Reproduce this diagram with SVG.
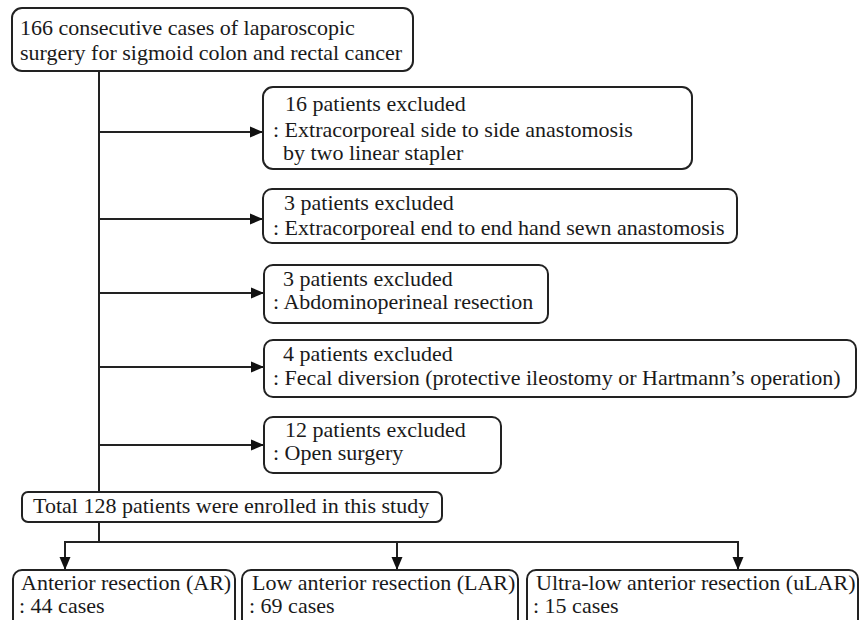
<svg xmlns="http://www.w3.org/2000/svg" width="860" height="620" viewBox="0 0 860 620">
<style>
  .box { fill: #ffffff; stroke: #222222; stroke-width: 2; }
  .t { font-family: "Liberation Serif", "Times New Roman", serif; font-size: 22px; fill: #1a1a1a; }
  .ln { fill: none; stroke: #222222; stroke-width: 2; }
</style>
<defs>
  <marker id="ah" markerUnits="userSpaceOnUse" markerWidth="14" markerHeight="14" viewBox="0 0 14 14" refX="13" refY="7" orient="auto">
    <path d="M0,1.5 L13,7 L0,12.5 Z" fill="#111111"/>
  </marker>
</defs>
<rect width="860" height="620" fill="#ffffff"/>

<g id="connectors">
  <line class="ln" x1="99" y1="71" x2="99" y2="492"/>
  <line class="ln" x1="99" y1="132" x2="263" y2="132" marker-end="url(#ah)"/>
  <line class="ln" x1="99" y1="219" x2="263" y2="219" marker-end="url(#ah)"/>
  <line class="ln" x1="99" y1="293" x2="264" y2="293" marker-end="url(#ah)"/>
  <line class="ln" x1="99" y1="367" x2="264" y2="367" marker-end="url(#ah)"/>
  <line class="ln" x1="99" y1="445" x2="264" y2="445" marker-end="url(#ah)"/>
  <line class="ln" x1="99" y1="522" x2="99" y2="542"/>
  <line class="ln" x1="65" y1="542" x2="738" y2="542"/>
  <line class="ln" x1="65" y1="541" x2="65" y2="570" marker-end="url(#ah)"/>
  <line class="ln" x1="397" y1="541" x2="397" y2="570" marker-end="url(#ah)"/>
  <line class="ln" x1="738" y1="541" x2="738" y2="570" marker-end="url(#ah)"/>
</g>

<g id="start">
  <rect class="box" x="12" y="8" width="401" height="63" rx="10"/>
  <text class="t" x="20" y="35">166 consecutive cases of laparoscopic</text>
  <text class="t" x="20" y="60">surgery for sigmoid colon and rectal cancer</text>
</g>

<g id="excl1">
  <rect class="box" x="263" y="87" width="429" height="82" rx="10"/>
  <text class="t" x="285" y="111">16 patients excluded</text>
  <text class="t" x="273" y="137">: Extracorporeal side to side anastomosis</text>
  <text class="t" x="283" y="160">by two linear stapler</text>
</g>

<g id="excl2">
  <rect class="box" x="263" y="189" width="474" height="54" rx="9"/>
  <text class="t" x="284" y="210">3 patients excluded</text>
  <text class="t" x="273" y="235">: Extracorporeal end to end hand sewn anastomosis</text>
</g>

<g id="excl3">
  <rect class="box" x="264" y="265" width="284" height="58" rx="9"/>
  <text class="t" x="283" y="286">3 patients excluded</text>
  <text class="t" x="273" y="309">: Abdominoperineal resection</text>
</g>

<g id="excl4">
  <rect class="box" x="264" y="340" width="592" height="57" rx="9"/>
  <text class="t" x="283" y="361">4 patients excluded</text>
  <text class="t" x="273" y="385">: Fecal diversion (protective ileostomy or Hartmann’s operation)</text>
</g>

<g id="excl5">
  <rect class="box" x="264" y="417" width="237" height="56" rx="9"/>
  <text class="t" x="285" y="437">12 patients excluded</text>
  <text class="t" x="273" y="460">: Open surgery</text>
</g>

<g id="total">
  <rect class="box" x="22" y="492" width="420" height="30" rx="6"/>
  <text class="t" x="33" y="513">Total 128 patients were enrolled in this study</text>
</g>

<g id="ar">
  <rect class="box" x="13" y="570" width="222" height="70" rx="9"/>
  <text class="t" x="21" y="590">Anterior resection (AR)</text>
  <text class="t" x="19" y="613">: 44 cases</text>
</g>

<g id="lar">
  <rect class="box" x="242" y="570" width="276" height="70" rx="9"/>
  <text class="t" x="252" y="590">Low anterior resection (LAR)</text>
  <text class="t" x="249" y="613">: 69 cases</text>
</g>

<g id="ular">
  <rect class="box" x="527" y="570" width="331" height="70" rx="9"/>
  <text class="t" x="536" y="590">Ultra-low anterior resection (uLAR)</text>
  <text class="t" x="533" y="613">: 15 cases</text>
</g>
</svg>
